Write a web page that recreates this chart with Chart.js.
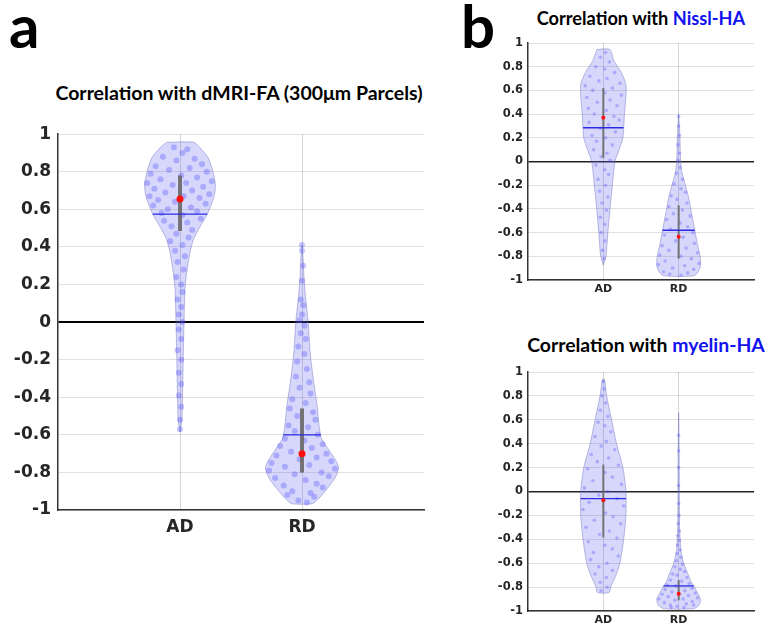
<!DOCTYPE html>
<html>
<head>
<meta charset="utf-8">
<script src="https://cdn.jsdelivr.net/npm/chart.js@4.4.0/dist/chart.umd.min.js"></script>
<style>
    body { margin: 0; background: #fff; width: 766px; height: 627px; position: relative; overflow: hidden; font-family: Lato, sans-serif; }
    .letter { position: absolute; font: bold 60px Lato, sans-serif; line-height: 1; color: #000; }
    .title { position: absolute; font-weight: bold; color: #000; white-space: nowrap; transform: translate(-50%, -50%); line-height: 1; }
    .title .hl { color: #1212f0; }
    canvas { position: absolute; }
</style>
</head>
<body>
<div class="letter" style="left:9px; top:-5px;">a</div>
<div class="letter" style="left:461px; top:-5px;">b</div>

<div class="title" style="left:239px; top:93px; font-size:19.5px;">Correlation with dMRI-FA (300&mu;m Parcels)</div>
<div class="title" style="left:641px; top:18px; font-size:18.2px;">Correlation with <span class="hl">Nissl-HA</span></div>
<div class="title" style="left:646px; top:345px; font-size:19.4px;">Correlation with <span class="hl">myelin-HA</span></div>

<canvas id="faChart" width="440" height="430" style="left:0; top:117px;"></canvas>
<canvas id="nisslChart" width="306" height="270" style="left:460px; top:30px;"></canvas>
<canvas id="myelinChart" width="306" height="272" style="left:460px; top:355px;"></canvas>

<script>
const categories = ['AD', 'RD'];

// violin outlines: [correlation, half width in category units], top to bottom
const faAdShape = [[0.957, 0.11], [0.93, 0.16], [0.875, 0.23], [0.80, 0.27], [0.73, 0.29], [0.67, 0.28], [0.615, 0.25], [0.57, 0.22], [0.526, 0.18], [0.48, 0.14], [0.44, 0.11], [0.38, 0.085], [0.318, 0.068], [0.25, 0.052], [0.18, 0.041], [0.005, 0.033], [-0.17, 0.027], [-0.34, 0.022], [-0.515, 0.016], [-0.585, 0]];
const faRdShape = [[0.41, 0], [0.33, 0.01], [0.265, 0.014], [0.145, 0.027], [0.005, 0.05], [-0.17, 0.068], [-0.34, 0.10], [-0.45, 0.125], [-0.55, 0.14], [-0.62, 0.16], [-0.69, 0.23], [-0.74, 0.28], [-0.776, 0.30], [-0.83, 0.27], [-0.9, 0.19], [-0.95, 0.12], [-0.967, 0.08]];
const nisslAdShape = [[0.945, 0.085], [0.85, 0.14], [0.75, 0.24], [0.65, 0.30], [0.55, 0.30], [0.4, 0.28], [0.2, 0.26], [0.1, 0.21], [0, 0.155], [-0.2, 0.12], [-0.4, 0.088], [-0.6, 0.06], [-0.8, 0.035], [-0.875, 0]];
const nisslRdShape = [[0.4, 0], [0.3, 0.01], [0.2, 0.017], [0, 0.026], [-0.1, 0.045], [-0.2, 0.09], [-0.3, 0.13], [-0.4, 0.16], [-0.5, 0.19], [-0.6, 0.22], [-0.7, 0.25], [-0.8, 0.285], [-0.88, 0.29], [-0.93, 0.26], [-0.965, 0.2]];
const myelinAdShape = [[0.937, 0.015], [0.8, 0.044], [0.6, 0.11], [0.4, 0.175], [0.2, 0.26], [0, 0.30], [-0.2, 0.30], [-0.4, 0.27], [-0.6, 0.22], [-0.7, 0.167], [-0.8, 0.097], [-0.845, 0.077]];
const myelinRdShape = [[0.66, 0], [0.4, 0.006], [0, 0.009], [-0.3, 0.012], [-0.4, 0.02], [-0.5, 0.03], [-0.6, 0.066], [-0.7, 0.13], [-0.75, 0.16], [-0.8, 0.21], [-0.85, 0.25], [-0.9, 0.29], [-0.95, 0.27], [-0.98, 0.2]];

// summary values per category (AD, RD)
const faMeans = [0.655, -0.70];
const faMedians = [0.575, -0.60];
const faQuartiles = [[0.485, 0.78], [-0.80, -0.46]];
const nisslMeans = [0.37, -0.635];
const nisslMedians = [0.285, -0.58];
const nisslQuartiles = [[0.03, 0.62], [-0.82, -0.37]];
const myelinMeans = [-0.073, -0.855];
const myelinMedians = [-0.06, -0.79];
const myelinQuartiles = [[-0.385, 0.225], [-0.91, -0.74]];

// parcel correlations: [horizontal jitter, correlation]
const faAdPoints = [[-0.05, 0.93], [0.06, 0.92], [0.02, 0.90], [-0.14, 0.88], [0.12, 0.87], [-0.03, 0.86], [0.18, 0.84], [-0.2, 0.83], [0.08, 0.82], [-0.09, 0.81], [0.22, 0.80], [-0.24, 0.79], [0.01, 0.78], [0.14, 0.77], [-0.16, 0.76], [0.26, 0.75], [-0.27, 0.74], [0.05, 0.74], [-0.06, 0.73], [0.19, 0.72], [-0.21, 0.71], [0.1, 0.70], [-0.12, 0.69], [0.24, 0.68], [-0.25, 0.67], [0.03, 0.67], [0.16, 0.66], [-0.18, 0.65], [-0.04, 0.64], [0.21, 0.63], [-0.22, 0.62], [0.09, 0.61], [-0.1, 0.60], [0.14, 0.59], [-0.15, 0.58], [0.02, 0.57], [0.17, 0.55], [-0.13, 0.54], [0.06, 0.53], [-0.07, 0.51], [0.1, 0.49], [-0.03, 0.47], [0.07, 0.45], [-0.08, 0.43], [0.02, 0.41], [-0.04, 0.38], [0.04, 0.35], [-0.02, 0.32], [0.03, 0.28], [-0.03, 0.24], [0.01, 0.2], [0.02, 0.16], [-0.02, 0.12], [0.01, 0.08], [-0.01, 0.04], [0.02, 0.0], [-0.01, -0.04], [0.01, -0.09], [-0.02, -0.15], [0.01, -0.2], [-0.01, -0.27], [0.01, -0.33], [-0.01, -0.39], [0.01, -0.45], [0, -0.52], [0, -0.57]];
const faRdPoints = [[0, 0.41], [0, 0.38], [0.01, 0.3], [0, 0.22], [-0.01, 0.12], [0.01, 0.09], [0, 0.04], [-0.02, 0.01], [0.02, -0.02], [-0.01, -0.06], [0.03, -0.09], [-0.03, -0.13], [0.02, -0.17], [-0.04, -0.21], [0.04, -0.25], [-0.05, -0.29], [0.06, -0.32], [-0.02, -0.35], [0.07, -0.38], [-0.08, -0.41], [0.03, -0.43], [-0.1, -0.46], [0.09, -0.48], [-0.04, -0.5], [0.11, -0.52], [-0.11, -0.55], [0.05, -0.56], [-0.06, -0.58], [0.13, -0.6], [-0.14, -0.62], [0.02, -0.63], [0.17, -0.65], [-0.18, -0.66], [0.08, -0.67], [-0.09, -0.69], [0.2, -0.7], [-0.21, -0.71], [0.12, -0.72], [-0.02, -0.73], [0.24, -0.74], [-0.25, -0.75], [0.06, -0.76], [-0.14, -0.77], [0.27, -0.78], [-0.27, -0.79], [0.16, -0.8], [-0.06, -0.81], [0.22, -0.82], [-0.22, -0.83], [0.03, -0.84], [0.12, -0.86], [-0.15, -0.87], [0.17, -0.88], [-0.08, -0.9], [0.07, -0.91], [-0.12, -0.92], [0.1, -0.93], [-0.03, -0.95], [0.04, -0.96]];
const nisslAdPoints = [[0.03, 0.92], [-0.04, 0.88], [0.08, 0.84], [-0.1, 0.8], [0.02, 0.78], [0.15, 0.75], [-0.18, 0.72], [0.05, 0.7], [-0.06, 0.68], [0.22, 0.66], [-0.24, 0.64], [0.12, 0.62], [-0.14, 0.6], [0.02, 0.58], [0.24, 0.56], [-0.22, 0.54], [0.09, 0.52], [-0.08, 0.5], [0.18, 0.47], [-0.2, 0.45], [0.04, 0.43], [-0.12, 0.4], [0.14, 0.38], [0.21, 0.35], [-0.19, 0.33], [0.07, 0.31], [-0.04, 0.28], [0.16, 0.25], [-0.15, 0.22], [0.03, 0.2], [-0.09, 0.17], [0.12, 0.14], [-0.13, 0.1], [0.05, 0.07], [-0.03, 0.04], [0.09, 0.01], [-0.1, -0.03], [0.02, -0.07], [0.07, -0.11], [-0.07, -0.15], [0.03, -0.2], [-0.05, -0.25], [0.06, -0.3], [-0.02, -0.35], [0.04, -0.41], [-0.04, -0.47], [0.02, -0.53], [-0.03, -0.6], [0.02, -0.67], [-0.01, -0.75], [0.01, -0.82]];
const nisslRdPoints = [[0, 0.38], [0, 0.3], [0.01, 0.22], [-0.01, 0.14], [0.01, 0.07], [-0.01, 0.01], [0.02, -0.05], [-0.03, -0.1], [0.05, -0.15], [-0.06, -0.19], [0.03, -0.23], [0.09, -0.26], [-0.1, -0.29], [-0.02, -0.32], [0.11, -0.35], [-0.13, -0.38], [0.05, -0.41], [-0.07, -0.44], [0.15, -0.46], [-0.16, -0.49], [0.02, -0.52], [0.12, -0.55], [-0.11, -0.57], [0.19, -0.6], [-0.19, -0.62], [0.06, -0.64], [-0.04, -0.67], [0.21, -0.69], [-0.22, -0.71], [0.1, -0.73], [-0.13, -0.75], [0.25, -0.77], [-0.25, -0.79], [0.03, -0.8], [0.17, -0.82], [-0.18, -0.84], [0.27, -0.86], [-0.27, -0.87], [0.08, -0.88], [-0.08, -0.9], [0.2, -0.91], [-0.2, -0.93], [0.12, -0.94], [-0.12, -0.95], [0.03, -0.96]];
const myelinAdPoints = [[0, 0.92], [0.01, 0.86], [-0.02, 0.8], [0.03, 0.74], [-0.04, 0.68], [0.06, 0.63], [-0.07, 0.58], [0.02, 0.55], [0.1, 0.5], [-0.11, 0.46], [0.04, 0.42], [-0.03, 0.38], [0.15, 0.35], [-0.16, 0.31], [0.07, 0.28], [-0.08, 0.25], [0.2, 0.22], [-0.21, 0.19], [0.02, 0.16], [0.12, 0.12], [-0.14, 0.09], [0.24, 0.06], [-0.25, 0.03], [0.06, 0.0], [-0.06, -0.03], [0.18, -0.06], [-0.19, -0.09], [0.27, -0.12], [-0.27, -0.15], [0.03, -0.18], [0.13, -0.21], [-0.12, -0.24], [0.23, -0.27], [-0.23, -0.3], [0.08, -0.33], [-0.05, -0.36], [0.18, -0.39], [-0.2, -0.42], [0.02, -0.45], [0.12, -0.48], [-0.13, -0.51], [0.2, -0.54], [-0.17, -0.57], [0.05, -0.6], [-0.06, -0.63], [0.12, -0.66], [-0.11, -0.69], [0.04, -0.72], [-0.04, -0.76], [0.05, -0.8], [-0.03, -0.83]];
const myelinRdPoints = [[0, 0.47], [0, 0.34], [0, 0.2], [0, 0.05], [0, -0.1], [0.005, -0.2], [-0.005, -0.27], [0.01, -0.33], [-0.01, -0.37], [0.01, -0.41], [-0.015, -0.45], [0.02, -0.49], [-0.02, -0.52], [0.03, -0.55], [-0.03, -0.58], [0.05, -0.61], [-0.05, -0.63], [0.02, -0.65], [0.08, -0.67], [-0.08, -0.69], [-0.02, -0.7], [0.11, -0.72], [-0.11, -0.74], [0.04, -0.75], [0.14, -0.77], [-0.15, -0.78], [-0.04, -0.79], [0.18, -0.81], [-0.18, -0.82], [0.08, -0.83], [-0.09, -0.84], [0.22, -0.85], [-0.22, -0.86], [0.01, -0.86], [0.13, -0.87], [-0.14, -0.88], [0.25, -0.89], [-0.26, -0.9], [0.06, -0.9], [-0.05, -0.91], [0.18, -0.92], [-0.19, -0.93], [0.1, -0.94], [-0.11, -0.95], [0.2, -0.95], [-0.02, -0.96], [0.07, -0.97], [-0.1, -0.97]];

class ViolinPanel {
    constructor(canvasId, panel) {
        this.panel = panel;
        this.chart = new Chart(document.getElementById(canvasId), {
            type: 'line',
            data: { datasets: this.buildDatasets() },
            options: this.buildOptions()
        });
    }

    // half width of a violin at a given correlation (linear between outline rows)
    widthAt(shape, y) {
        for (let i = 0; i < shape.length - 1; i++) {
            const [y0, w0] = shape[i];
            const [y1, w1] = shape[i + 1];
            if (y <= y0 && y >= y1) {
                return w0 + (w1 - w0) * (y0 - y) / (y0 - y1);
            }
        }
        return 0;
    }

    outline(shape, center) {
        const left = shape.map(([y, w]) => ({ x: center - w, y: y }));
        const right = shape.slice().reverse().map(([y, w]) => ({ x: center + w, y: y }));
        const pts = left.concat(right);
        pts.push(pts[0]);
        return pts;
    }

    buildDatasets() {
        const p = this.panel;
        const datasets = [];

        p.shapes.forEach((shape, i) => {
            const center = i + 1;
            const half = this.widthAt(shape, p.medians[i]);

            datasets.push({
                data: this.outline(shape, center),
                borderColor: 'rgba(110, 110, 190, 0.45)',
                borderWidth: 1,
                backgroundColor: 'rgba(100, 100, 240, 0.26)',
                fill: 'shape',
                tension: 0.25,
                pointRadius: 0,
                order: 5
            });
            datasets.push({
                data: p.points[i].map(([dx, y]) => ({ x: center + dx, y: y })),
                showLine: false,
                pointRadius: p.dotRadius,
                pointBackgroundColor: 'rgba(80, 80, 255, 0.33)',
                pointBorderWidth: 0,
                order: 4
            });
            datasets.push({
                data: [{ x: center, y: p.quartiles[i][0] }, { x: center, y: p.quartiles[i][1] }],
                borderColor: 'rgba(105, 105, 105, 0.9)',
                borderWidth: p.barWidth,
                pointRadius: 0,
                order: 3
            });
            datasets.push({
                data: [{ x: center - half, y: p.medians[i] }, { x: center + half, y: p.medians[i] }],
                borderColor: '#2a2ae6',
                borderWidth: 1.3,
                pointRadius: 0,
                order: 2
            });
            datasets.push({
                data: [{ x: center, y: p.means[i] }],
                showLine: false,
                pointRadius: p.meanRadius,
                pointBackgroundColor: '#ff1010',
                pointBorderWidth: 0,
                order: 1
            });
        });
        return datasets;
    }

    buildOptions() {
        const p = this.panel;
        const tickFont = { family: 'DejaVu Sans', weight: 'bold', size: p.fontSize };
        return {
            responsive: false,
            devicePixelRatio: 1,
            animation: false,
            layout: { padding: p.padding },
            plugins: { legend: { display: false }, tooltip: { enabled: false } },
            scales: {
                x: {
                    type: 'linear',
                    min: 0,
                    max: 3,
                    afterBuildTicks: axis => { axis.ticks = [0, 1, 2, 3].map(v => ({ value: v })); },
                    afterFit: axis => { axis.height = p.xAxisHeight; },
                    ticks: {
                        callback: v => categories[v - 1] || '',
                        font: { family: 'DejaVu Sans', weight: 'bold', size: p.xFontSize },
                        color: '#262626',
                        padding: p.xPad,
                        maxRotation: 0,
                        autoSkip: false
                    },
                    grid: {
                        color: ctx => (ctx.tick && (ctx.tick.value === 1 || ctx.tick.value === 2)) ? 'rgba(0, 0, 0, 0.16)' : 'rgba(0, 0, 0, 0)',
                        drawTicks: false
                    },
                    border: { color: '#333', width: 1.5 }
                },
                y: {
                    min: -1,
                    max: 1,
                    afterFit: axis => { axis.width = p.yAxisWidth; },
                    ticks: {
                        stepSize: 0.2,
                        callback: v => String(Math.round(v * 10) / 10),
                        font: tickFont,
                        color: '#262626',
                        padding: p.yPad
                    },
                    grid: {
                        color: ctx => (ctx.tick && Math.abs(ctx.tick.value) < 1e-9) ? p.zeroColor : 'rgba(0, 0, 0, 0.12)',
                        lineWidth: ctx => (ctx.tick && Math.abs(ctx.tick.value) < 1e-9) ? p.zeroWidth : 1,
                        drawTicks: false
                    },
                    border: { color: '#333', width: 1.5 }
                }
            }
        };
    }
}

document.addEventListener('DOMContentLoaded', () => {
    new ViolinPanel('faChart', {
        shapes: [faAdShape, faRdShape],
        points: [faAdPoints, faRdPoints],
        means: faMeans,
        medians: faMedians,
        quartiles: faQuartiles,
        dotRadius: 3,
        meanRadius: 3.5,
        barWidth: 4,
        fontSize: 17,
        xFontSize: 17,
        xPad: 7,
        yPad: 7,
        padding: { top: 12, right: 16, left: 0, bottom: 0 },
        yAxisWidth: 58,
        xAxisHeight: 37,
        zeroColor: '#000',
        zeroWidth: 2
    });

    new ViolinPanel('nisslChart', {
        shapes: [nisslAdShape, nisslRdShape],
        points: [nisslAdPoints, nisslRdPoints],
        means: nisslMeans,
        medians: nisslMedians,
        quartiles: nisslQuartiles,
        dotRadius: 1.8,
        meanRadius: 2,
        barWidth: 2,
        fontSize: 11.5,
        xFontSize: 11,
        xPad: 3,
        yPad: 5,
        padding: { top: 13, right: 12, left: 0, bottom: 0 },
        yAxisWidth: 68,
        xAxisHeight: 20,
        zeroColor: '#222',
        zeroWidth: 1.5
    });

    new ViolinPanel('myelinChart', {
        shapes: [myelinAdShape, myelinRdShape],
        points: [myelinAdPoints, myelinRdPoints],
        means: myelinMeans,
        medians: myelinMedians,
        quartiles: myelinQuartiles,
        dotRadius: 1.8,
        meanRadius: 2,
        barWidth: 2,
        fontSize: 11.5,
        xFontSize: 11,
        xPad: 3,
        yPad: 5,
        padding: { top: 17, right: 12, left: 0, bottom: 0 },
        yAxisWidth: 68,
        xAxisHeight: 16,
        zeroColor: '#222',
        zeroWidth: 1.5
    });
});
</script>
</body>
</html>
